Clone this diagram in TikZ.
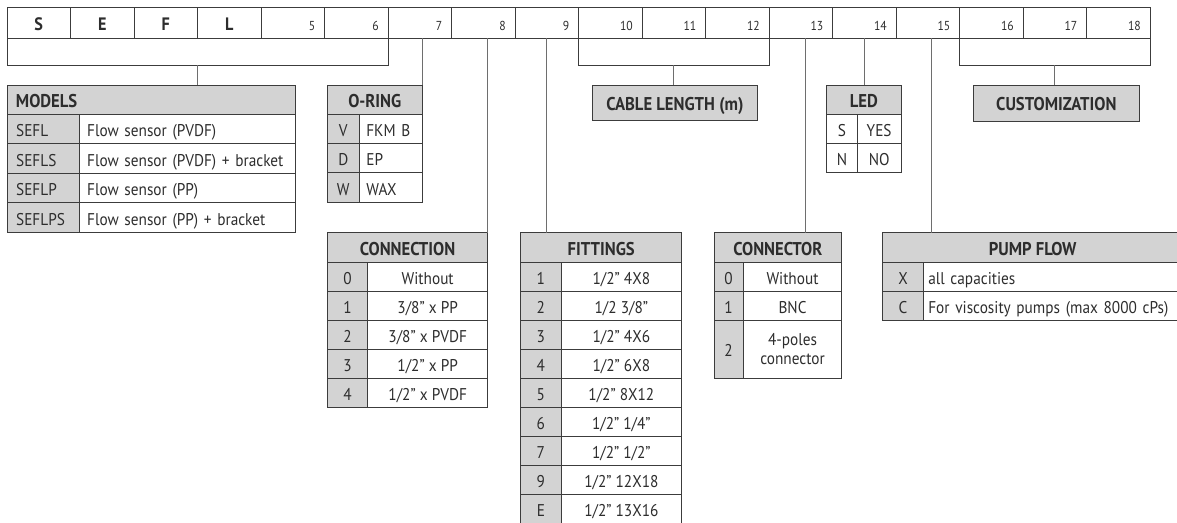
\documentclass[tikz,border=0pt]{standalone}
\usepackage{fontspec}
\setmainfont{PT Sans}[FakeStretch=0.9]
\usepackage{tikz}
\usetikzlibrary{positioning}
\usepackage{xcolor}
\definecolor{hdrgray}{RGB}{211,211,211}
\definecolor{ink}{RGB}{45,45,45}
\definecolor{rulegray}{RGB}{60,60,60}
\definecolor{wiregray}{RGB}{110,110,110}

\begin{document}
\begin{tikzpicture}[x=1pt, y=-1pt,
                  every node/.style={inner sep=0pt, outer sep=0pt, text=ink,
                              font=\fontsize{17}{19}\selectfont},
                  box/.style={draw=rulegray, line width=0.9pt, anchor=north west},
                  cell/.style={box, minimum width=63.5pt, minimum height=31pt,
                              text height=22.5pt, text depth=7pt},
                  letter/.style={cell, font=\fontsize{18}{20}\selectfont\bfseries},
                  digit/.style={cell, font=\fontsize{13}{15}\selectfont,
                              text width=45pt, align=right},
                  bracket/.style={box, minimum height=27pt},
                  hdr/.style={box, fill=hdrgray, text height=17pt, text depth=2pt,
                              font=\fontsize{18.5}{20}\selectfont\bfseries},
                  key/.style={box, fill=hdrgray, text height=17pt, text depth=2pt},
                  val/.style={box, text height=17pt, text depth=2pt},
                  wire/.style={draw=wiregray, line width=1pt},
            ]
            \useasboundingbox (0,0) rectangle (1177,522);
            % code row
            \foreach \t [count=\i] in {S,E,F,L}
                  \node[letter] (c\i) at ({7+63.5*(\i-1)},7) {\t};
            \foreach \i in {5,...,18}
                  \node[digit] (c\i) at ({7+63.5*(\i-1)},7) {\i};
            \node[bracket, minimum width=381pt] (b16) at (c1.south west) {};
            \node[bracket, minimum width=190.5pt] (b1012) at (c10.south west) {};
            \node[bracket, minimum width=190.5pt] (b1618) at (c16.south west) {};

            % upper tables
            \node[hdr, minimum width=288pt, minimum height=29.3pt, text width=270pt,
                  align=left] (models) at (7,85) {MODELS};
            \foreach \k/\v [count=\i] in {SEFL/Flow sensor (PVDF), SEFLS/Flow sensor (PVDF) + bracket,
                  SEFLP/Flow sensor (PP), SEFLPS/Flow sensor (PP) + bracket} {
                  \node[key, minimum width=72.3pt, minimum height=29.5pt, text width=54pt,
                        align=left] (mk\i) at (7,{114.3+29.5*(\i-1)}) {\k};
                  \node[val, minimum width=215.7pt, minimum height=29.5pt, text width=200pt,
                        align=left] (mv\i) at (mk\i.north east) {\v};
            }

            \node[hdr, minimum width=95pt, minimum height=29.3pt] (oring) at (327.3,85) {O-RING};
            \foreach \k/\v [count=\i] in {V/FKM B, D/EP, W/WAX} {
                  \node[key, minimum width=32pt, minimum height=29.3pt] (ok\i) at (327.3,{114.3+29.3*(\i-1)}) {\k};
                  \node[val, minimum width=63pt, minimum height=29.3pt, text width=49pt,
                        align=left] (ov\i) at (ok\i.north east) {\v};
            }

            \node[hdr, minimum width=165.4pt, minimum height=35.7pt] (cable) at (592.3,85) {CABLE LENGTH (m)};

            \node[hdr, minimum width=74.3pt, minimum height=29.3pt] (led) at (826.7,85) {LED};
            \foreach \k/\v [count=\i] in {S/YES, N/NO} {
                  \node[val, minimum width=30.6pt, minimum height=29pt] (lk\i) at (826.7,{114.3+29*(\i-1)}) {\k};
                  \node[val, minimum width=43.7pt, minimum height=29pt] (lv\i) at (lk\i.north east) {\v};
            }

            \node[hdr, minimum width=166pt, minimum height=36pt] (custom) at (973.3,85) {CUSTOMIZATION};

            % lower tables
            \node[hdr, minimum width=160.4pt, minimum height=29.6pt] (conn) at (327.3,232.7) {CONNECTION};
            \foreach \k/\v [count=\i] in {0/Without, 1/{3/8” x PP}, 2/{3/8” x PVDF},
                  3/{1/2” x PP}, 4/{1/2” x PVDF}} {
                  \node[key, minimum width=40.4pt, minimum height=29pt] (nk\i) at (327.3,{262.3+29*(\i-1)}) {\k};
                  \node[val, minimum width=120pt, minimum height=29pt] (nv\i) at (nk\i.north east) {\v};
            }

            \node[hdr, minimum width=161pt, minimum height=29.6pt] (fit) at (520.7,232.7) {FITTINGS};
            \foreach \k/\v [count=\i] in {1/{1/2” 4X8}, 2/{1/2 3/8”}, 3/{1/2” 4X6}, 4/{1/2” 6X8},
                  5/{1/2” 8X12}, 6/{1/2” 1/4”}, 7/{1/2” 1/2”}, 9/{1/2” 12X18}, E/{1/2” 13X16}} {
                  \node[key, minimum width=40.3pt, minimum height=29pt] (fk\i) at (520.7,{262.3+29*(\i-1)}) {\k};
                  \node[val, minimum width=120.7pt, minimum height=29pt] (fv\i) at (fk\i.north east) {\v};
            }

            \node[hdr, minimum width=127.7pt, minimum height=29.6pt] (ctor) at (714,232.7) {CONNECTOR};
            \foreach \k/\v [count=\i] in {0/Without, 1/BNC} {
                  \node[key, minimum width=29.3pt, minimum height=29pt] (tk\i) at (714,{262.3+29*(\i-1)}) {\k};
                  \node[val, minimum width=98.4pt, minimum height=29pt] (tv\i) at (tk\i.north east) {\v};
            }
            \node[key, minimum width=29.3pt, minimum height=58pt] (tk3) at (714,320.3) {2};
            \node[box, minimum width=98.4pt, minimum height=58pt, text width=90pt,
                  align=center] (tv3) at (tk3.north east) {4-poles\\connector};

            \node[hdr, minimum width=300pt, minimum height=29.6pt] (pump) at (882.7,232.7) {PUMP FLOW};
            \foreach \k/\v [count=\i] in {X/all capacities, C/For viscosity pumps (max 8000 cPs)} {
                  \node[key, minimum width=40.6pt, minimum height=29pt] (pk\i) at (882.7,{262.3+29*(\i-1)}) {\k};
                  \node[val, minimum width=259.4pt, minimum height=29pt, text width=249.4pt,
                        align=left] (pv\i) at (pk\i.north east) {\v};
            }

            % connectors
            \draw[wire] (b16.south) -- (b16.south |- models.north);
            \draw[wire] (c7.south -| oring.north east) -- (oring.north east);
            \draw[wire] (c8.south -| conn.north east) -- (conn.north east);
            \draw[wire] (c9.south) -- (c9.south |- fit.north);
            \draw[wire] (b1012.south) -- (b1012.south |- cable.north);
            \draw[wire] ([xshift=5pt]c13.south) -- ([xshift=5pt]c13.south |- ctor.north);
            \draw[wire] (c14.south) -- (c14.south |- led.north);
            \draw[wire] ([xshift=3.5pt]c15.south) -- ([xshift=3.5pt]c15.south |- pump.north);
            \draw[wire] (b1618.south) -- (b1618.south |- custom.north);
      \end{tikzpicture}
\end{document}
